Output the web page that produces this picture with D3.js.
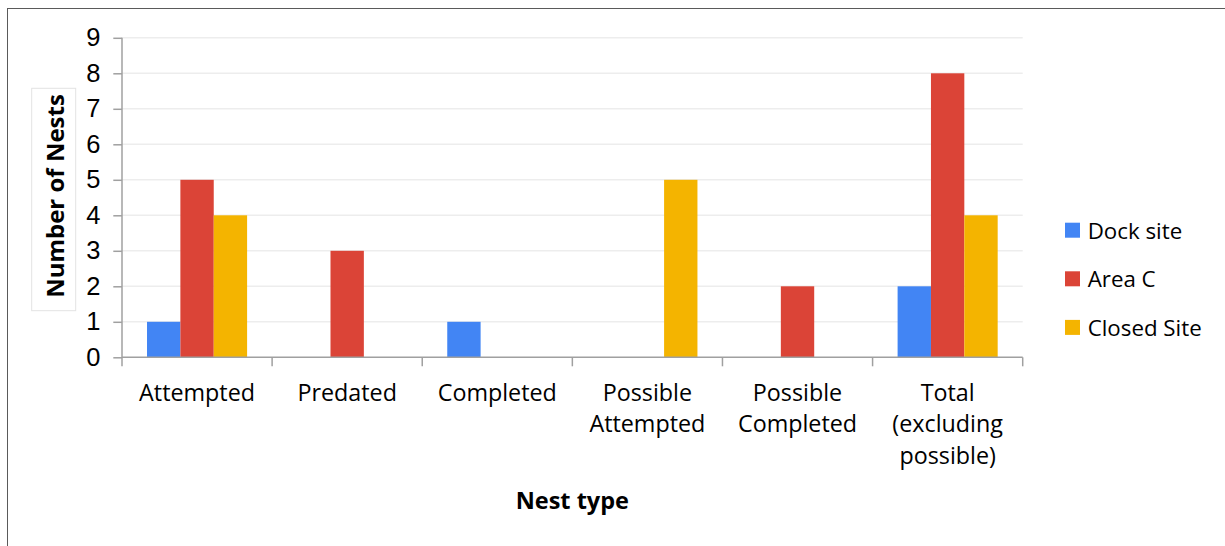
<!DOCTYPE html>
<html>
<head>
<meta charset="utf-8">
<script src="https://cdn.jsdelivr.net/npm/d3@7"></script>
<style>
  html, body { margin: 0; padding: 0; background: #fff; }
  svg { display: block; }
</style>
</head>
<body>
<svg id="chart" width="1225" height="546"></svg>
<script>
// Nest counts by nest type and site
const categories = [
  ["Attempted"],
  ["Predated"],
  ["Completed"],
  ["Possible", "Attempted"],
  ["Possible", "Completed"],
  ["Total", "(excluding", "possible)"]
];
const seriesNames = ["Dock site", "Area C", "Closed Site"];
const dockSite   = [1, 0, 1, 0, 0, 2];
const areaC      = [5, 3, 0, 0, 2, 8];
const closedSite = [4, 0, 0, 5, 0, 4];
const yTicks = [0, 1, 2, 3, 4, 5, 6, 7, 8, 9];
const colors = ["#4285f4", "#db4437", "#f4b400"];

const seriesValues = [dockSite, areaC, closedSite];
const catKeys = categories.map(c => c.join(" "));

const svg = d3.select("#chart");
const sansUI = "'Open Sans', 'Noto Sans', sans-serif";
const sansNum = "'Liberation Sans', Arial, sans-serif";

// outer frame
svg.append("rect")
  .attr("x", 7.5).attr("y", 8.5)
  .attr("width", 1300).attr("height", 600)
  .attr("fill", "none").attr("stroke", "#5a5a5a").attr("stroke-width", 1);

const plot = { left: 122, right: 1022.7, top: 37.8, bottom: 357.3 };

const x = d3.scaleBand()
  .domain(catKeys)
  .range([plot.left, plot.right])
  .paddingInner(0).paddingOuter(0);

const xs = d3.scaleBand()
  .domain(seriesNames)
  .range([0, x.bandwidth()])
  .paddingInner(0).paddingOuter(0.75);

const y = d3.scaleLinear()
  .domain([0, 9])
  .range([plot.bottom, plot.top]);

// gridlines
svg.append("g")
  .selectAll("line")
  .data(yTicks.filter(t => t > 0))
  .join("line")
  .attr("x1", plot.left).attr("x2", plot.right)
  .attr("y1", d => y(d)).attr("y2", d => y(d))
  .attr("stroke", "#ededed").attr("stroke-width", 1.5);

// bars
const rows = catKeys.map((k, i) => ({
  key: k,
  values: seriesNames.map((s, j) => ({ series: s, value: seriesValues[j][i], color: colors[j] }))
}));

svg.append("g")
  .selectAll("g")
  .data(rows)
  .join("g")
  .attr("transform", d => `translate(${x(d.key)},0)`)
  .selectAll("rect")
  .data(d => d.values.filter(v => v.value > 0))
  .join("rect")
  .attr("x", d => xs(d.series))
  .attr("width", xs.bandwidth())
  .attr("y", d => y(d.value))
  .attr("height", d => y(0) - y(d.value))
  .attr("fill", d => d.color);

// y axis
const yAxis = d3.axisLeft(y)
  .tickValues(yTicks)
  .tickSize(8.7)
  .tickPadding(13)
  .tickFormat(d3.format("d"));

const gy = svg.append("g")
  .attr("transform", `translate(${plot.left},0)`)
  .call(yAxis);
gy.select(".domain").attr("stroke", "#a0a0a0").attr("stroke-width", 1.5)
  .attr("d", `M0,${plot.top}V${plot.bottom}`);
gy.selectAll(".tick line").attr("stroke", "#a0a0a0").attr("stroke-width", 1.5);
gy.selectAll(".tick text")
  .attr("font-family", sansNum).attr("font-size", 25.5).attr("fill", "#000");

// x axis: baseline plus boundary ticks between categories
const gx = svg.append("g");
gx.append("line")
  .attr("x1", plot.left).attr("x2", plot.right)
  .attr("y1", plot.bottom).attr("y2", plot.bottom)
  .attr("stroke", "#a0a0a0").attr("stroke-width", 1.5);
const bounds = catKeys.map(k => x(k)).concat([plot.right]);
gx.selectAll("line.b")
  .data(bounds)
  .join("line")
  .attr("class", "b")
  .attr("x1", d => d).attr("x2", d => d)
  .attr("y1", plot.bottom).attr("y2", plot.bottom + 9)
  .attr("stroke", "#a0a0a0").attr("stroke-width", 1.5);

// category labels
const labels = svg.append("g")
  .attr("font-family", sansUI).attr("font-size", 23.3)
  .attr("text-anchor", "middle").attr("fill", "#000");
categories.forEach((lines, i) => {
  const t = labels.append("text")
    .attr("x", x(catKeys[i]) + x.bandwidth() / 2)
    .attr("y", 400.7);
  lines.forEach((ln, j) => {
    t.append("tspan")
      .attr("x", x(catKeys[i]) + x.bandwidth() / 2)
      .attr("dy", j === 0 ? 0 : 31.4)
      .text(ln);
  });
});

// x axis title
svg.append("text")
  .attr("x", (plot.left + plot.right) / 2)
  .attr("y", 509.3)
  .attr("text-anchor", "middle")
  .attr("font-family", sansUI).attr("font-weight", "bold").attr("font-size", 23.5)
  .attr("fill", "#000")
  .text("Nest type");

// y axis title with its box
svg.append("rect")
  .attr("x", 31.7).attr("y", 88.3)
  .attr("width", 44).attr("height", 222.4)
  .attr("fill", "#fff").attr("stroke", "#e3e3e3").attr("stroke-width", 1);
svg.append("text")
  .attr("transform", "translate(64.3,196) rotate(-90)")
  .attr("text-anchor", "middle")
  .attr("font-family", sansUI).attr("font-weight", "bold").attr("font-size", 24)
  .attr("fill", "#000")
  .text("Number of Nests");

// legend
const legend = svg.append("g");
seriesNames.forEach((s, i) => {
  const base = 238.7 + i * 48.6;
  legend.append("rect")
    .attr("x", 1065).attr("y", base - 16)
    .attr("width", 15).attr("height", 15)
    .attr("fill", colors[i]);
  legend.append("text")
    .attr("x", 1087.7).attr("y", base)
    .attr("font-family", sansUI).attr("font-size", 22.3)
    .attr("fill", "#000")
    .text(s);
});
</script>
</body>
</html>
